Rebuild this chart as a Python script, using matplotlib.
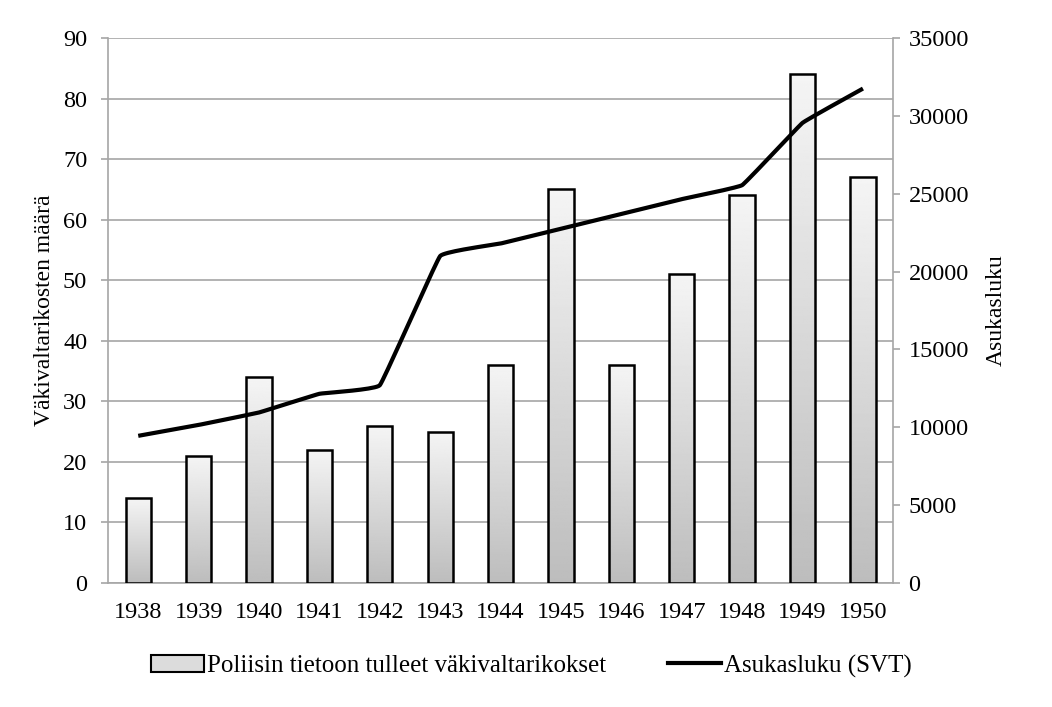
import matplotlib

matplotlib.use("Agg")
import matplotlib.pyplot as plt
import numpy as np
from matplotlib.patches import Patch
from matplotlib.lines import Line2D

plt.rcParams["font.family"] = ["Liberation Serif", "DejaVu Serif"]

years = ["1938", "1939", "1940", "1941", "1942", "1943", "1944",
         "1945", "1946", "1947", "1948", "1949", "1950"]
crimes = [14, 21, 34, 22, 26, 25, 36, 65, 36, 51, 64, 84, 67]
population = [9450, 10150, 10950, 12150, 12700, 21000, 21800,
              22750, 23700, 24650, 25550, 29550, 31750]

GRID = "#a6a6a6"


def smooth(x, y, n=20, k=0.1):
    # light Catmull-Rom style smoothing like a spreadsheet "smoothed line"
    x = np.asarray(x, float)
    y = np.asarray(y, float)
    px = np.concatenate([[2 * x[0] - x[1]], x, [2 * x[-1] - x[-2]]])
    py = np.concatenate([[2 * y[0] - y[1]], y, [2 * y[-1] - y[-2]]])
    xs, ys = [], []
    t = np.linspace(0, 1, n)
    h00 = 2 * t**3 - 3 * t**2 + 1
    h10 = t**3 - 2 * t**2 + t
    h01 = -2 * t**3 + 3 * t**2
    h11 = t**3 - t**2
    for i in range(1, len(px) - 2):
        xs.append(h00 * px[i] + h10 * k * (px[i + 1] - px[i - 1])
                  + h01 * px[i + 1] + h11 * k * (px[i + 2] - px[i]))
        ys.append(h00 * py[i] + h10 * k * (py[i + 1] - py[i - 1])
                  + h01 * py[i + 1] + h11 * k * (py[i + 2] - py[i]))
    return np.concatenate(xs), np.concatenate(ys)


fig = plt.figure(figsize=(10.52, 7.07), dpi=100)
ax = fig.add_axes([0.1027, 0.1754, 0.7463, 0.7709])
x = np.arange(len(years))

bars = ax.bar(x, crimes, width=0.42, color="none", edgecolor="black",
              linewidth=1.8, zorder=3)
grad = np.linspace(0.96, 0.74, 256).reshape(-1, 1)
for b in bars:
    x0, y0 = b.get_x(), b.get_y()
    w, h = b.get_width(), b.get_height()
    im = ax.imshow(grad, cmap="gray", vmin=0, vmax=1, aspect="auto",
                   extent=[x0, x0 + w, y0, y0 + h], origin="upper", zorder=2)
    im.set_clip_path(b)

ax.set_xlim(-0.5, len(years) - 0.5)
ax.set_ylim(0, 90)
ax.set_yticks(range(0, 91, 10))
ax.set_xticks(x)
ax.set_xticklabels(years)
ax.yaxis.grid(True, color=GRID, linewidth=1.2, zorder=0)
ax.set_axisbelow(True)
for s in ["left", "right", "bottom"]:
    ax.spines[s].set_color(GRID)
    ax.spines[s].set_linewidth(1.2)
ax.spines["top"].set_visible(False)
ax.tick_params(axis="both", labelsize=17.5, color=GRID, length=5, width=1.2)
ax.tick_params(axis="y", pad=10)
ax.tick_params(axis="x", length=0, pad=14)
ax.set_ylabel("Väkivaltarikosten määrä", fontsize=17, labelpad=6)

ax2 = ax.twinx()
ax2.set_ylim(0, 35000)
ax2.set_yticks(range(0, 35001, 5000))
sx, sy = smooth(x, population)
ax2.plot(sx, sy, color="black", linewidth=3.0, solid_capstyle="butt", zorder=4)
for s in ["left", "right", "bottom", "top"]:
    ax2.spines[s].set_visible(False)
ax2.tick_params(axis="y", labelsize=17.5, color=GRID, length=5, width=1.2, pad=6)
ax2.set_ylabel("Asukasluku", fontsize=17, labelpad=12)

handles = [Patch(facecolor="#dcdcdc", edgecolor="black", linewidth=1.5),
           Line2D([0], [0], color="black", linewidth=3.0)]
fig.legend(handles, ["Poliisin tietoon tulleet väkivaltarikokset", "Asukasluku (SVT)"],
           loc="center", bbox_to_anchor=(0.505, 0.058), ncol=2, frameon=False,
           fontsize=18, columnspacing=2.5, handlelength=2.1, handletextpad=0.12)

fig.savefig("out.png", dpi=100)
